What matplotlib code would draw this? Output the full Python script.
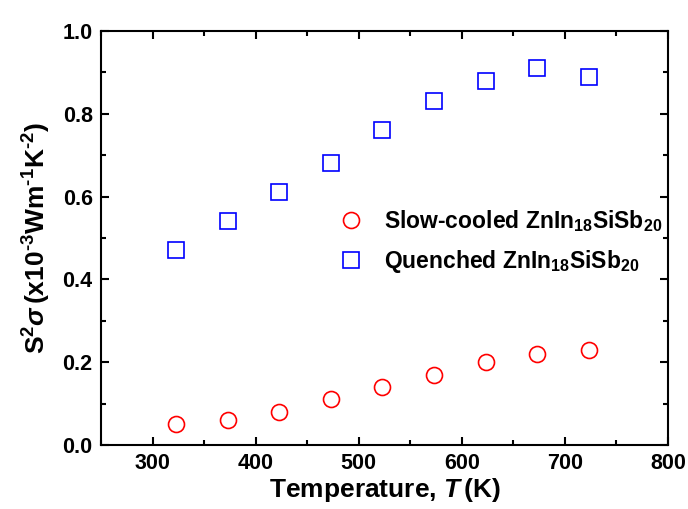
import matplotlib
matplotlib.use('Agg')
import matplotlib.pyplot as plt

# data
temperature = [323, 373, 423, 473, 523, 573, 623, 673, 723]
slow_cooled = [0.05, 0.06, 0.08, 0.11, 0.14, 0.17, 0.20, 0.22, 0.23]
quenched = [0.47, 0.54, 0.61, 0.68, 0.76, 0.83, 0.88, 0.91, 0.89]

plt.rcParams['font.family'] = 'Liberation Sans'
plt.rcParams['font.weight'] = 'bold'
plt.rcParams['axes.labelweight'] = 'bold'
plt.rcParams['mathtext.fontset'] = 'custom'
plt.rcParams['mathtext.rm'] = 'Liberation Sans:bold'
plt.rcParams['mathtext.bf'] = 'Liberation Sans:bold'
plt.rcParams['mathtext.it'] = 'Liberation Sans:italic:bold'
plt.rcParams['mathtext.default'] = 'rm'

fig = plt.figure(figsize=(6.88, 5.09), dpi=100)
ax = fig.add_axes([101 / 688, 1 - 445 / 509, 567 / 688, 414 / 509])

ax.plot(temperature, slow_cooled, 'o', mfc='none', mec='red', mew=1.2, ms=11.5,
        label='Slow-cooled ZnIn$_{18}$SiSb$_{20}$')
ax.plot(temperature, quenched, 's', mfc='none', mec='blue', mew=1.2, ms=11,
        label='Quenched ZnIn$_{18}$SiSb$_{20}$')

ax.set_xlim(250, 800)
ax.set_ylim(0, 1.0)
ax.set_xticks([300, 400, 500, 600, 700, 800])
ax.set_xticks(range(250, 801, 50), minor=True)
ax.set_yticks([0.0, 0.2, 0.4, 0.6, 0.8, 1.0])
ax.set_yticks([0.1, 0.3, 0.5, 0.7, 0.9], minor=True)
ax.set_xticklabels(['300', '400', '500', '600', '700', '800'])
ax.set_yticklabels(['0.0', '0.2', '0.4', '0.6', '0.8', '1.0'])

ax.tick_params(which='both', direction='in', top=True, right=True, width=1.5)
ax.tick_params(which='major', length=6, labelsize=15.5, pad=6)
ax.tick_params(which='minor', length=3.5)
for s in ax.spines.values():
    s.set_linewidth(1.5)

ax.set_xlabel('Temperature, $\\mathit{T}\\,$(K)', fontsize=19, labelpad=1)
ax.set_ylabel('$S^2\\mathit{\\sigma}\\,$(x10$^{\\text{-}3}$Wm$^{\\text{-}1}$K$^{\\text{-}2}$)',
              fontsize=19, labelpad=7)

ax.legend(loc='center left', bbox_to_anchor=(0.40, 0.4915), frameon=False,
          fontsize=16.5, handletextpad=0.45, labelspacing=0.6, borderaxespad=0,
          borderpad=0)

plt.savefig('out.png', dpi=100)
